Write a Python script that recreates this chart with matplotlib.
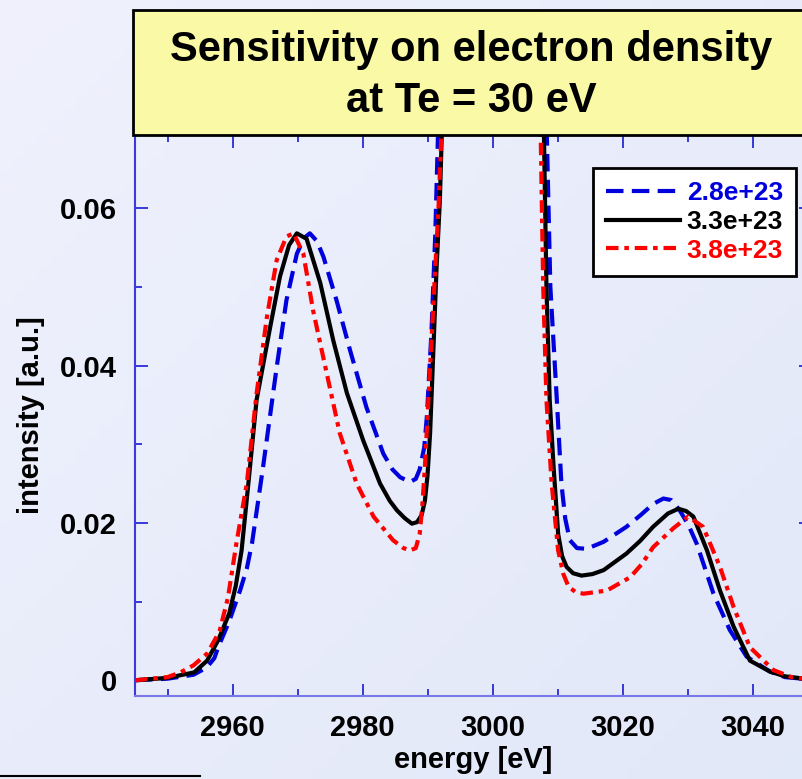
import numpy as np
import matplotlib
matplotlib.use('Agg')
import matplotlib.pyplot as plt
from matplotlib.patches import Rectangle
from matplotlib.lines import Line2D
from matplotlib.ticker import MultipleLocator

plt.rcParams['font.family'] = ['Liberation Sans', 'DejaVu Sans']
plt.rcParams['font.weight'] = 'bold'

# electron density 2.8e+23
energy_lo = [2945, 2950, 2954, 2956, 2957.2, 2957.8, 2959.5, 2961.2, 2962.2, 2963, 2964.7, 2966.8, 2968.3,
             2969.9, 2971, 2971.9, 2973, 2974, 2976, 2978.1, 2980.6, 2983.2, 2984.6, 2985.8, 2987.3, 2988.2,
             2988.8, 2989.5, 2989.9, 2990.6, 2991.2, 2991.8, 2994, 3000, 3006, 3008.2, 3008.9, 3009.9,
             3010.6, 3011.2, 3011.9, 3013, 3014.5, 3017.1, 3020.6, 3022.8, 3024.7, 3026.3, 3027.5, 3028.8,
             3030.1, 3031.4, 3034, 3036.5, 3039.1, 3042.7, 3045, 3049]
int_lo = [0, 0.0002, 0.0007, 0.0016, 0.0028, 0.0042, 0.0075, 0.0115, 0.0142, 0.0174, 0.0271, 0.0398, 0.0483,
          0.0542, 0.0562, 0.0568, 0.0558, 0.0538, 0.0483, 0.0419, 0.0347, 0.0288, 0.0268, 0.0258, 0.0252, 0.0256,
          0.0268, 0.0296, 0.0335, 0.0441, 0.0568, 0.075, 0.15, 0.28, 0.15, 0.075, 0.05, 0.0356,
          0.025, 0.0205, 0.0178, 0.0168, 0.0167, 0.0176, 0.0195, 0.021, 0.0224, 0.0231, 0.0229, 0.0216,
          0.0198, 0.0174, 0.011, 0.0064, 0.003, 0.0011, 0.0004, 0.0001]

# electron density 3.3e+23
energy_mid = [2945, 2950, 2954.1, 2956.1, 2957.8, 2959.5, 2960.5, 2961.4, 2962.5, 2963.7, 2965.8, 2967.3,
              2968.7, 2969.9, 2971.4, 2973.5, 2975.5, 2977.6, 2980.1, 2982.7, 2984.2, 2985.3, 2986.5,
              2987.6, 2988.4, 2989.1, 2989.6, 2990.0, 2990.4, 2990.9, 2991.4, 2991.9, 2992.4, 2994, 3000,
              3006, 3007.8, 3008.3, 3008.8, 3009.4, 3010.1, 3010.7, 3011.4, 3012.4, 3013.7, 3015.4,
              3017.1, 3020.6, 3022.7, 3024.7, 3027, 3028.6, 3029.8, 3030.9, 3033, 3035, 3037.1, 3039.6,
              3042.7, 3045, 3049]
int_mid = [0, 0.0003, 0.001, 0.0025, 0.0051, 0.0085, 0.012, 0.0165, 0.0255, 0.0356, 0.0449, 0.0513,
           0.0553, 0.0568, 0.0561, 0.0505, 0.0432, 0.0365, 0.0305, 0.025, 0.0228, 0.0216, 0.0206,
           0.0199, 0.0201, 0.021, 0.0228, 0.026, 0.0314, 0.0419, 0.0525, 0.061, 0.075, 0.15, 0.3,
           0.15, 0.075, 0.05, 0.0356, 0.0271, 0.0186, 0.0158, 0.0144, 0.0136, 0.0133, 0.0135,
           0.014, 0.0161, 0.0177, 0.0195, 0.0212, 0.0218, 0.0215, 0.0208, 0.0165, 0.0114, 0.0068, 0.0025,
           0.0011, 0.0005, 0.0001]

# electron density 3.8e+23
energy_hi = [2945, 2950, 2952, 2954, 2956.1, 2958, 2959.3, 2960.6, 2962.2, 2963.7, 2965.3, 2966.8,
             2968.3, 2969.4, 2970.9, 2972.4, 2974.5, 2976.5, 2979.1, 2981.7, 2984.7, 2986.3, 2987.3,
             2988.2, 2988.8, 2989.2, 2989.6, 2990.4, 2991.2, 2991.7, 2992.4, 2994, 3000, 3006, 3007.3,
             3007.8, 3008.3, 3009.1, 3010.1, 3010.9, 3011.7, 3012.8, 3014, 3017.6, 3021.2, 3023, 3024.7,
             3027.8, 3030.1, 3032.4, 3035, 3037.1, 3039.6, 3043.2, 3046, 3049]
int_hi = [0, 0.0004, 0.001, 0.0019, 0.0034, 0.0062, 0.0105, 0.0174, 0.025, 0.0364, 0.0462, 0.0534,
          0.0564, 0.0568, 0.0542, 0.047, 0.039, 0.0314, 0.025, 0.0208, 0.0178, 0.0168, 0.0165,
          0.0168, 0.0186, 0.0222, 0.0271, 0.0398, 0.0525, 0.0602, 0.075, 0.15, 0.32, 0.15, 0.075,
          0.05, 0.0356, 0.025, 0.0165, 0.0135, 0.0119, 0.0112, 0.011, 0.0114, 0.0131, 0.0148, 0.0169,
          0.0193, 0.0208, 0.0195, 0.0144, 0.0093, 0.0042, 0.0013, 0.0004, 0.0001]

labels = ['2.8e+23', '3.3e+23', '3.8e+23']
colors = ['#0000dd', '#000000', '#ff0000']

W, H = 802, 779
fig = plt.figure(figsize=(W / 100, H / 100), dpi=100)

# soft lavender background
bg = fig.add_axes([0, 0, 1, 1], zorder=-10)
gx, gy = np.meshgrid(np.linspace(0, 1, 64), np.linspace(0, 1, 64))
g = (gx + gy) / 2
c0 = np.array([0.94, 0.945, 0.99])
c1 = np.array([0.885, 0.91, 0.975])
img = c0[None, None, :] * (1 - g[..., None]) + c1[None, None, :] * g[..., None]
bg.imshow(img, extent=[0, 1, 0, 1], aspect='auto', origin='upper')
bg.axis('off')

ax = fig.add_axes([135 / W, 83 / H, (811 - 135) / W, (696 - 135) / H])
ax.patch.set_alpha(0)

ax.plot(energy_lo, int_lo, color=colors[0], lw=3, dashes=(4.2, 2.0), label=labels[0])
ax.plot(energy_mid, int_mid, color=colors[1], lw=3, label=labels[1])
ax.plot(energy_hi, int_hi, color=colors[2], lw=3, dashes=(3.0, 1.4, 1.1, 1.4), label=labels[2])

ax.set_xlim(2945, 3049)
ax.set_ylim(-0.002, 0.0693)
ax.xaxis.set_major_locator(MultipleLocator(20))
ax.xaxis.set_minor_locator(MultipleLocator(10))
ax.yaxis.set_minor_locator(MultipleLocator(0.01))
ax.set_yticks([0, 0.02, 0.04, 0.06])
ax.set_yticklabels(['0', '0.02', '0.04', '0.06'])

for s in ['left', 'top', 'right']:
    ax.spines[s].set_color('#3b3bdc')
ax.spines['bottom'].set_color('#7878e6')
for s in ax.spines.values():
    s.set_linewidth(1.5)

ax.tick_params(which='both', direction='in', top=True, right=True, colors='#2a2ad8', width=1.3)
ax.tick_params(which='major', length=9)
ax.tick_params(which='minor', length=5)
ax.tick_params(axis='both', which='both', labelcolor='black', labelsize=21)
ax.tick_params(axis='x', pad=13)
ax.tick_params(axis='y', pad=13)
for t in ax.get_xticklabels() + ax.get_yticklabels():
    t.set_fontweight('bold')

ax.set_xlabel('energy [eV]', fontsize=21, fontweight='bold', labelpad=3)
ax.set_ylabel('intensity [a.u.]', fontsize=21, fontweight='bold', labelpad=11)

leg = ax.legend(loc='upper left', bbox_to_anchor=(593 / W, 1 - 168 / H),
                bbox_transform=fig.transFigure, borderaxespad=0,
                fancybox=False, framealpha=1, edgecolor='black', facecolor='white',
                prop={'weight': 'bold', 'size': 19}, labelcolor=colors,
                handlelength=2.8, handletextpad=0.25, labelspacing=0.18,
                borderpad=0.5)
leg.get_frame().set_linewidth(2)

# title box
fig.patches.append(Rectangle((133 / W, 1 - 135 / H), 0.9, 125 / H, transform=fig.transFigure,
                             facecolor='#fafaa6', edgecolor='black', lw=2, zorder=5))
fig.text(471 / W, 1 - 50 / H, 'Sensitivity on electron density', ha='center', va='center',
         fontsize=30, fontweight='bold', zorder=6)
fig.text(471 / W, 1 - 101 / H, 'at Te = 30 eV', ha='center', va='center',
         fontsize=30, fontweight='bold', zorder=6)

fig.lines.append(Line2D([0, 200 / W], [1 - 776 / H, 1 - 776 / H], transform=fig.transFigure,
                        color='black', lw=1.5))

fig.savefig('out.png', dpi=100)
